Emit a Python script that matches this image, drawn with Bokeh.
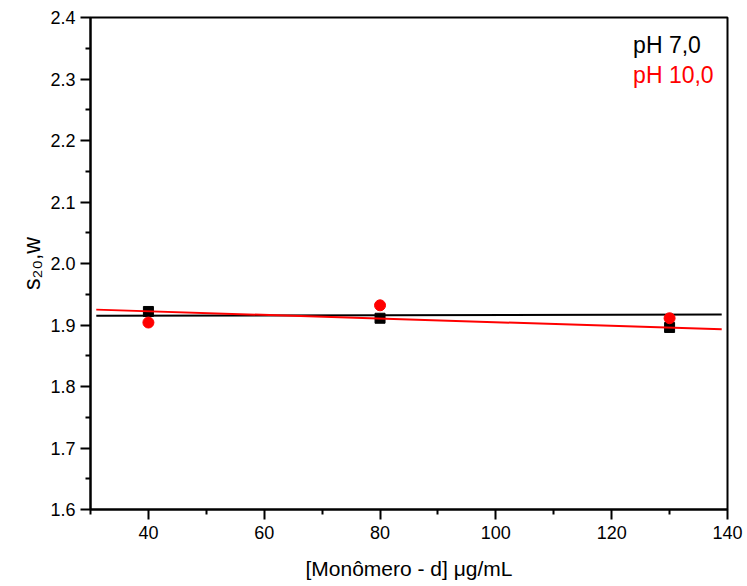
from bokeh.plotting import figure
from bokeh.models import Range1d, FixedTicker, Label, NumeralTickFormatter
from bokeh.embed import file_html
from bokeh.resources import INLINE

# ---- data ----
conc = [40, 80, 130]
s_ph7 = [1.922, 1.911, 1.896]
s_ph10 = [1.904, 1.932, 1.911]

fit_x = [31, 139]
fit_ph7 = [1.915, 1.917]
fit_ph10 = [1.925, 1.893]

x_major = [40, 60, 80, 100, 120, 140]
x_minor = [30, 50, 70, 90, 110, 130]
y_major = [1.6, 1.7, 1.8, 1.9, 2.0, 2.1, 2.2, 2.3, 2.4]
y_minor = [1.65, 1.75, 1.85, 1.95, 2.05, 2.15, 2.25, 2.35]

legend_labels = ["pH 7,0", "pH 10,0"]
colors = ["#000000", "#ff0000"]

FONT = "Liberation Sans"

p = figure(width=747, height=586, output_backend="svg", toolbar_location=None,
           x_range=Range1d(30, 140), y_range=Range1d(1.6, 2.4),
           min_border_left=90, min_border_right=20, min_border_top=17,
           min_border_bottom=77)

p.background_fill_color = "white"
p.border_fill_color = "white"
p.outline_line_color = "black"
p.outline_line_width = 2
p.xgrid.visible = False
p.ygrid.visible = False

# fit lines and points
p.line(fit_x, fit_ph7, line_color=colors[0], line_width=2)
p.scatter(conc, s_ph7, marker="square", size=10, fill_color=colors[0], line_color=colors[0])
p.line(fit_x, fit_ph10, line_color=colors[1], line_width=2)
p.scatter(conc, s_ph10, marker="circle", size=11, fill_color=colors[1], line_color=colors[1])

# axes
p.xaxis.ticker = FixedTicker(ticks=x_major, minor_ticks=x_minor)
p.yaxis.ticker = FixedTicker(ticks=y_major, minor_ticks=y_minor)
p.yaxis.formatter = NumeralTickFormatter(format="0.0")

for ax in (p.xaxis[0], p.yaxis[0]):
    ax.axis_line_width = 2
    ax.axis_line_color = "black"
    ax.major_tick_line_width = 2
    ax.minor_tick_line_width = 2
    ax.major_tick_in = 0
    ax.minor_tick_in = 0
    ax.major_tick_out = 10
    ax.minor_tick_out = 5
    ax.major_label_text_font = FONT
    ax.major_label_text_font_size = "18px"
    ax.major_label_text_color = "black"
    ax.axis_label_text_font = FONT
    ax.axis_label_text_font_style = "normal"
    ax.axis_label_text_color = "black"
    ax.axis_label_text_font_size = "21px"

p.xaxis.major_label_standoff = 6
p.yaxis.major_label_standoff = 5
p.xaxis.axis_label = "[Monômero - d] μg/mL"
p.xaxis.axis_label_standoff = 15
p.yaxis.axis_label = "s₂₀,w"
p.yaxis.axis_label_text_font_size = "23px"
p.yaxis.axis_label_standoff = 2

# legend texts
p.add_layout(Label(x=123.7, y=2.356, text=legend_labels[0], text_color=colors[0],
                   text_font=FONT, text_font_size="23px", text_baseline="middle"))
p.add_layout(Label(x=123.7, y=2.306, text=legend_labels[1], text_color=colors[1],
                   text_font=FONT, text_font_size="23px", text_baseline="middle"))

open("out.html", "w").write(file_html(p, INLINE))
